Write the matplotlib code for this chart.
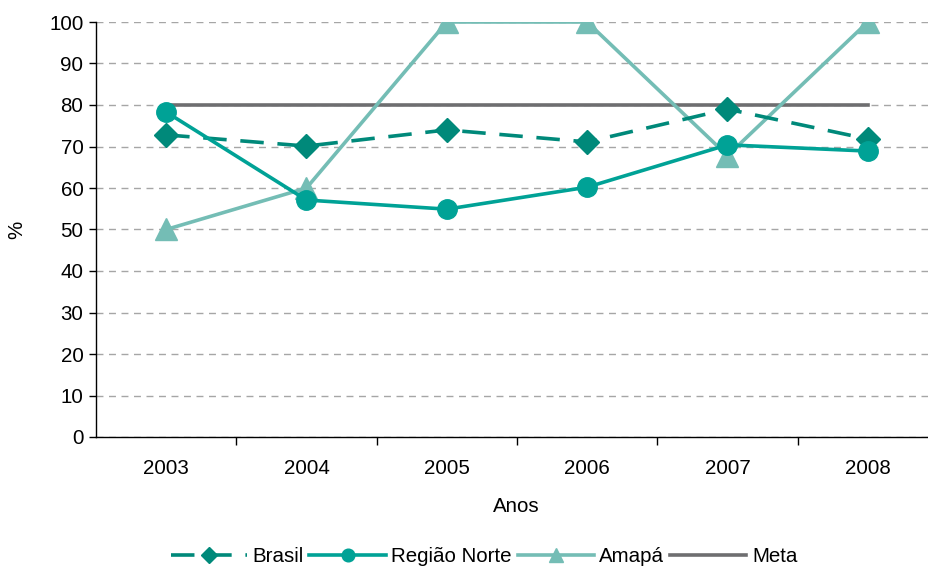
import matplotlib
matplotlib.use("Agg")
import matplotlib.pyplot as plt
from matplotlib.ticker import FixedLocator, NullFormatter

plt.rcParams['font.family'] = ['Liberation Sans', 'DejaVu Sans']
FS = 14.8

anos = ['2003', '2004', '2005', '2006', '2007', '2008']
brasil = [72.8, 70.1, 74.0, 71.1, 79.0, 71.8]
regiao_norte = [78.3, 57.1, 54.9, 60.2, 70.4, 68.9]
amapa = [50.0, 60.0, 100.0, 100.0, 67.8, 100.0]
meta = [80, 80, 80, 80, 80, 80]

c_brasil = '#00897a'
c_norte = '#00a296'
c_amapa = '#74bdb5'
c_meta = '#6e6e70'

fig = plt.figure(figsize=(9.29, 5.69), dpi=100)
ax = fig.add_axes([96 / 929, 132 / 569, 842 / 929, 415 / 569])

x = list(range(len(anos)))
LW = 2.6
ax.plot(x, meta, color=c_meta, lw=LW, label='Meta', zorder=2)
ax.plot(x, amapa, color=c_amapa, lw=LW, marker='^', ms=15.5, label='Amapá', zorder=3)
ax.plot(x, brasil, color=c_brasil, lw=LW, ls=(0, (6.5, 3.8)), marker='D', ms=12.5,
        label='Brasil', zorder=4)
ax.plot(x, regiao_norte, color=c_norte, lw=LW, marker='o', ms=14,
        label='Região Norte', zorder=5)

ax.set_xlim(-0.5, len(anos) - 0.5)
ax.set_ylim(0, 100)
ax.set_yticks(range(0, 101, 10))
ax.set_xticks(x)
ax.set_xticklabels(anos)
ax.xaxis.set_minor_locator(FixedLocator([i + 0.5 for i in range(len(anos) - 1)]))
ax.xaxis.set_minor_formatter(NullFormatter())
ax.tick_params(axis='x', which='major', length=0, pad=15.5, labelsize=FS)
ax.tick_params(axis='x', which='minor', length=6, width=1, direction='out')
ax.tick_params(axis='y', which='major', length=5, width=1, direction='out', labelsize=FS, pad=4)

ax.yaxis.grid(True, color='#a6a6a6', ls=(0, (5, 4)), lw=1)
ax.set_axisbelow(True)
for s in ['top', 'right']:
    ax.spines[s].set_visible(False)
for s in ['left', 'bottom']:
    ax.spines[s].set_color('black')
    ax.spines[s].set_linewidth(1)

ax.set_ylabel('%', fontsize=FS)
ax.set_xlabel('Anos', fontsize=FS)
ax.xaxis.set_label_coords((516 - 96) / 842, -(506 - 437) / 415)
ax.yaxis.set_label_coords(-(96 - 17) / 842, (437 - 230) / 415)
ax.xaxis.label.set_va('center')
ax.yaxis.label.set_va('center')

handles, labels = ax.get_legend_handles_labels()
order = ['Brasil', 'Região Norte', 'Amapá', 'Meta']
hmap = dict(zip(labels, handles))
leg = fig.legend([hmap[k] for k in order], order, loc='center',
                 bbox_to_anchor=(484 / 929, 1 - 557 / 569), ncol=4, frameon=False,
                 fontsize=FS, handlelength=3.7, handletextpad=0.28, columnspacing=0.28,
                 markerscale=0.65, borderpad=0)

fig.savefig('out.png', dpi=100)
